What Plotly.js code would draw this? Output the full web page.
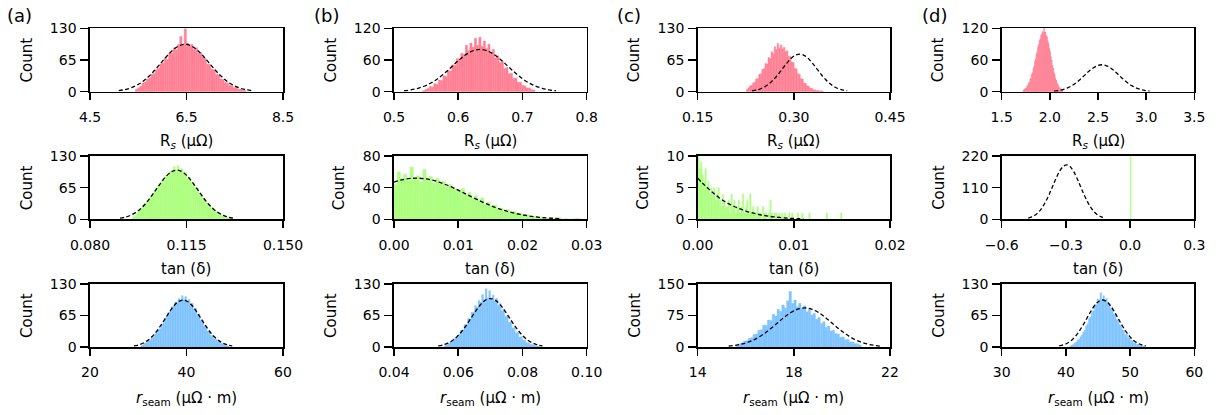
<!DOCTYPE html>
<html><head><meta charset="utf-8">
<script src="https://cdn.plot.ly/plotly-3.0.1.min.js"></script>
<style>html,body{margin:0;padding:0;background:#fff}#chart{width:1220px;height:415px}</style>
</head><body><div id="chart"></div><script>
// ---------------- data ----------------
const panelLabels = ['(a)', '(b)', '(c)', '(d)'];
const rowTitles = ['R<sub><i>s</i></sub> (μΩ)', 'tan (δ)', '<i>r</i><sub>seam</sub> (μΩ · m)'];
const yTitle = 'Count';

// (a)
const aRsX = [4.5, 6.5, 8.5], aRsXText = ['4.5', '6.5', '8.5'], aRsY = [0, 65, 130];
const aRsBinStart = 5.44, aRsBinWidth = 0.046;
const aRsCounts = [5, 8, 11, 18, 20, 26, 28, 36, 38, 45, 48, 57, 59, 69, 66, 80, 79, 90, 86, 97, 113, 95, 129, 100, 94, 97, 87, 90, 79, 80, 70, 68, 57, 56, 46, 45, 36, 35, 26, 25, 19, 18, 13, 12, 8, 9, 5, 5, 3, 2];
const aRsFitStart = 5.095, aRsFitStep = 0.125;
const aRsFit = [2.2, 4.3, 7.7, 13.1, 21.0, 31.5, 44.4, 58.8, 73.2, 85.6, 94.0, 97, 94.0, 85.6, 73.2, 58.8, 44.4, 31.5, 21.0, 13.1, 7.7, 4.3, 2.2];

const aTanX = [0.080, 0.115, 0.150], aTanXText = ['0.080', '0.115', '0.150'], aTanY = [0, 65, 130];
const aTanBinStart = 0.0955, aTanBinWidth = 0.0007;
const aTanCounts = [5, 8, 13, 18, 22, 28, 30, 38, 40, 48, 51, 60, 62, 71, 73, 83, 80, 91, 90, 99, 97, 108, 99, 110, 98, 104, 93, 96, 85, 86, 76, 74, 65, 64, 54, 52, 43, 41, 33, 32, 24, 23, 17, 16, 11, 11, 7, 5, 4, 3, 2];
const aTanFitStart = 0.090875, aTanFitStep = 0.001875;
const aTanFit = [2.3, 4.4, 8.0, 13.7, 21.8, 32.8, 46.2, 61.3, 76.2, 89.1, 97.9, 101, 97.9, 89.1, 76.2, 61.3, 46.2, 32.8, 21.8, 13.7, 8.0, 4.4, 2.3];

const aSeamX = [20, 40, 60], aSeamXText = ['20', '40', '60'], aSeamY = [0, 65, 130];
const aSeamBinStart = 30.55, aSeamBinWidth = 0.35;
const aSeamCounts = [3, 5, 8, 9, 13, 14, 19, 21, 27, 29, 36, 38, 47, 50, 60, 62, 72, 73, 83, 84, 93, 91, 100, 96, 106, 98, 104, 95, 98, 88, 90, 78, 79, 67, 68, 55, 55, 44, 43, 33, 32, 24, 24, 17, 16, 11, 11, 7, 7, 4, 3, 2];
const aSeamFitStart = 29.125, aSeamFitStep = 0.925;
const aSeamFit = [2.2, 4.3, 7.7, 13.1, 21.0, 31.5, 44.4, 58.8, 73.2, 85.6, 94.0, 97, 94.0, 85.6, 73.2, 58.8, 44.4, 31.5, 21.0, 13.1, 7.7, 4.3, 2.2];

// (b)
const bRsX = [0.5, 0.6, 0.7, 0.8], bRsXText = ['0.5', '0.6', '0.7', '0.8'], bRsY = [0, 60, 120];
const bRsBinStart = 0.5445, bRsBinWidth = 0.0035;
const bRsCounts = [2, 4, 6, 10, 9, 15, 14, 22, 21, 30, 29, 40, 39, 51, 50, 63, 60, 73, 70, 88, 78, 92, 84, 101, 88, 103, 86, 96, 82, 90, 74, 80, 64, 68, 55, 57, 44, 46, 34, 35, 25, 26, 18, 18, 12, 11, 7, 7, 4, 3];
const bRsFitStart = 0.51575, bRsFitStep = 0.01075;
const bRsFit = [1.8, 3.5, 6.4, 10.8, 17.3, 26.0, 36.6, 48.5, 60.4, 70.6, 77.5, 80, 77.5, 70.6, 60.4, 48.5, 36.6, 26.0, 17.3, 10.8, 6.4, 3.5, 1.8];

const bTanX = [0, 0.01, 0.02, 0.03], bTanXText = ['0.00', '0.01', '0.02', '0.03'], bTanY = [0, 40, 80];
const bTanBinStart = 0, bTanBinWidth = 0.0005;
const bTanCounts = [44, 60, 52, 57, 49, 66, 51, 55, 47, 63, 50, 54, 46, 52, 45, 48, 41, 44, 40, 38, 36, 39, 31, 34, 27, 30, 24, 27, 18, 22, 16, 18, 13, 14, 10, 12, 8, 10, 6, 8, 5, 6, 3, 4, 4, 2, 3, 1, 2, 1, 1, 2, 0, 1, 0, 0, 1, 1];
const bTanFitStart = 0, bTanFitStep = 0.001;
const bTanFit = [47.0, 49.4, 51.1, 51.9, 51.9, 51.1, 49.4, 47.0, 44.0, 40.6, 36.8, 32.8, 28.7, 24.8, 21.0, 17.5, 14.4, 11.6, 9.2, 7.2, 5.6, 4.2, 3.1, 2.3, 1.6, 1.2, 0.8];

const bSeamX = [0.04, 0.06, 0.08, 0.10], bSeamXText = ['0.04', '0.06', '0.08', '0.10'], bSeamY = [0, 65, 130];
const bSeamBinStart = 0.05575, bSeamBinWidth = 0.00055;
const bSeamCounts = [3, 5, 7, 11, 12, 17, 18, 25, 26, 35, 35, 46, 46, 59, 58, 72, 71, 85, 82, 96, 92, 108, 98, 120, 101, 116, 100, 107, 95, 100, 86, 90, 75, 78, 63, 65, 51, 52, 39, 40, 29, 30, 20, 21, 14, 14, 9, 9, 5, 5, 4, 3, 2, 1];
const bSeamFitStart = 0.053775, bSeamFitStep = 0.001475;
const bSeamFit = [2.3, 4.4, 8.0, 13.5, 21.6, 32.5, 45.8, 60.7, 75.5, 88.3, 96.9, 100, 96.9, 88.3, 75.5, 60.7, 45.8, 32.5, 21.6, 13.5, 8.0, 4.4, 2.3];

// (c)
const cRsX = [0.15, 0.30, 0.45], cRsXText = ['0.15', '0.30', '0.45'], cRsY = [0, 65, 130];
const cRsBinStart = 0.226, cRsBinWidth = 0.0024;
const cRsCounts = [5, 8, 12, 13, 18, 20, 26, 27, 36, 37, 46, 47, 58, 57, 70, 68, 82, 78, 92, 86, 99, 89, 96, 88, 91, 82, 84, 72, 72, 61, 60, 48, 47, 37, 36, 27, 26, 18, 17, 12, 11, 7, 7, 4, 4, 2, 3, 1, 2, 1];
const cRsFitStart = 0.23475, cRsFitStep = 0.00675;
const cRsFit = [1.8, 3.4, 6.1, 10.4, 16.7, 25.0, 35.3, 46.7, 58.1, 68.0, 74.6, 77, 74.6, 68.0, 58.1, 46.7, 35.3, 25.0, 16.7, 10.4, 6.1, 3.4, 1.8];

const cTanX = [0, 0.01, 0.02], cTanXText = ['0.00', '0.01', '0.02'], cTanY = [0, 5, 10];
const cTanBinStart = 0, cTanBinWidth = 0.00015;
const cTanCounts = [10, 8, 9, 7, 6, 8, 5, 6, 4, 5,
                    4, 5, 3, 4, 5, 3, 2, 4, 3, 2,
                    2, 3, 1, 4, 2, 3, 1, 2, 3, 1,
                    2, 4, 1, 2, 3, 1, 4, 1, 2, 1,
                    1, 2, 1, 1, 0, 2, 1, 1, 0, 1,
                    3, 1, 0, 1, 1, 0, 1, 0, 1, 0,
                    1, 0, 0, 1, 0, 1, 0, 0, 0, 1,
                    0, 0, 1, 0, 0, 0, 0, 1, 0, 0,
                    0, 0, 0, 0, 0, 0, 0, 0, 0, 1,
                    0, 0, 0, 0, 0, 0, 0, 0, 0, 1];
const cTanFitStart = 0, cTanFitStep = 0.0005;
const cTanFit = [6.5, 5.7, 5.0, 4.3, 3.7, 3.1, 2.65, 2.25, 1.9, 1.6, 1.3, 1.08, 0.88, 0.72, 0.58, 0.46, 0.37, 0.29, 0.22, 0.17, 0.13, 0.1, 0.07];

const cSeamX = [14, 18, 22], cSeamXText = ['14', '18', '22'], cSeamY = [0, 75, 150];
const cSeamBinStart = 15.6, cSeamBinWidth = 0.1;
const cSeamCounts = [5, 8, 10, 14, 15, 21, 22, 30, 31, 40, 41, 52, 52, 64, 63, 78, 74, 90, 85, 100, 93, 110, 132, 104, 112, 96, 104, 92, 98, 84, 89, 76, 80, 66, 70, 56, 60, 47, 50, 38, 40, 32, 31, 23, 24, 17, 18, 12, 12, 8, 8, 5];
const cSeamFitStart = 15.2875, cSeamFitStep = 0.2875;
const cSeamFit = [2.1, 4.1, 7.4, 12.6, 20.1, 30.2, 42.6, 56.4, 70.2, 82.1, 90.1, 93, 90.1, 82.1, 70.2, 56.4, 42.6, 30.2, 20.1, 12.6, 7.4, 4.1, 2.1];

// (d)
const dRsX = [1.5, 2.0, 2.5, 3.0, 3.5], dRsXText = ['1.5', '2.0', '2.5', '3.0', '3.5'], dRsY = [0, 60, 120];
const dRsBinStart = 1.72, dRsBinWidth = 0.008;
const dRsCounts = [2, 4, 5, 7, 7, 11, 12, 17, 18, 24, 26, 33, 36, 44, 48, 57, 62, 71, 76, 84, 89, 97, 100, 107, 109, 114, 112, 121, 113, 113, 106, 104, 96, 91, 82, 76, 66, 60, 50, 45, 36, 32, 25, 22, 16, 14, 10, 8, 6, 5, 3, 3];
const dRsFitStart = 2.045, dRsFitStep = 0.045;
const dRsFit = [1.2, 2.2, 4.1, 6.9, 11.0, 16.6, 23.3, 30.9, 38.5, 45.0, 49.4, 51, 49.4, 45.0, 38.5, 30.9, 23.3, 16.6, 11.0, 6.9, 4.1, 2.2, 1.2];

const dTanX = [-0.6, -0.3, 0.0, 0.3], dTanXText = ['\u22120.6', '\u22120.3', '0.0', '0.3'], dTanY = [0, 110, 220];
const dTanBinStart = 0.001, dTanBinWidth = 0.004;
const dTanCounts = [240];
const dTanFitStart = -0.47575, dTanFitStep = 0.01625;
const dTanFit = [4.3, 8.3, 15.0, 25.6, 40.9, 61.4, 86.5, 114.6, 142.7, 166.8, 183.2, 189, 183.2, 166.8, 142.7, 114.6, 86.5, 61.4, 40.9, 25.6, 15.0, 8.3, 4.3];

const dSeamX = [30, 40, 50, 60], dSeamXText = ['30', '40', '50', '60'], dSeamY = [0, 65, 130];
const dSeamBinStart = 40.6, dSeamBinWidth = 0.225;
const dSeamCounts = [2, 4, 5, 8, 10, 14, 16, 21, 25, 31, 35, 44, 48, 59, 62, 73, 75, 88, 87, 99, 94, 112, 98, 106, 95, 100, 89, 90, 79, 80, 68, 68, 57, 56, 46, 45, 35, 35, 26, 26, 19, 19, 13, 13, 8, 9, 5, 6, 3, 4, 2, 2];
const dSeamFitStart = 38.9625, dSeamFitStep = 0.6125;
const dSeamFit = [2.2, 4.3, 7.7, 13.1, 21.0, 31.5, 44.4, 58.8, 73.2, 85.6, 94.0, 97, 94.0, 85.6, 73.2, 58.8, 44.4, 31.5, 21.0, 13.1, 7.7, 4.3, 2.2];

// ---------------- assembly ----------------
const panels = [
  [ {xt:aRsX, xl:aRsXText, yt:aRsY, bs:aRsBinStart, bw:aRsBinWidth, c:aRsCounts, fs:aRsFitStart, fd:aRsFitStep, f:aRsFit},
    {xt:aTanX, xl:aTanXText, yt:aTanY, bs:aTanBinStart, bw:aTanBinWidth, c:aTanCounts, fs:aTanFitStart, fd:aTanFitStep, f:aTanFit},
    {xt:aSeamX, xl:aSeamXText, yt:aSeamY, bs:aSeamBinStart, bw:aSeamBinWidth, c:aSeamCounts, fs:aSeamFitStart, fd:aSeamFitStep, f:aSeamFit} ],
  [ {xt:bRsX, xl:bRsXText, yt:bRsY, bs:bRsBinStart, bw:bRsBinWidth, c:bRsCounts, fs:bRsFitStart, fd:bRsFitStep, f:bRsFit},
    {xt:bTanX, xl:bTanXText, yt:bTanY, bs:bTanBinStart, bw:bTanBinWidth, c:bTanCounts, fs:bTanFitStart, fd:bTanFitStep, f:bTanFit},
    {xt:bSeamX, xl:bSeamXText, yt:bSeamY, bs:bSeamBinStart, bw:bSeamBinWidth, c:bSeamCounts, fs:bSeamFitStart, fd:bSeamFitStep, f:bSeamFit} ],
  [ {xt:cRsX, xl:cRsXText, yt:cRsY, bs:cRsBinStart, bw:cRsBinWidth, c:cRsCounts, fs:cRsFitStart, fd:cRsFitStep, f:cRsFit},
    {xt:cTanX, xl:cTanXText, yt:cTanY, bs:cTanBinStart, bw:cTanBinWidth, c:cTanCounts, fs:cTanFitStart, fd:cTanFitStep, f:cTanFit},
    {xt:cSeamX, xl:cSeamXText, yt:cSeamY, bs:cSeamBinStart, bw:cSeamBinWidth, c:cSeamCounts, fs:cSeamFitStart, fd:cSeamFitStep, f:cSeamFit} ],
  [ {xt:dRsX, xl:dRsXText, yt:dRsY, bs:dRsBinStart, bw:dRsBinWidth, c:dRsCounts, fs:dRsFitStart, fd:dRsFitStep, f:dRsFit},
    {xt:dTanX, xl:dTanXText, yt:dTanY, bs:dTanBinStart, bw:dTanBinWidth, c:dTanCounts, fs:dTanFitStart, fd:dTanFitStep, f:dTanFit},
    {xt:dSeamX, xl:dSeamXText, yt:dSeamY, bs:dSeamBinStart, bw:dSeamBinWidth, c:dSeamCounts, fs:dSeamFitStart, fd:dSeamFitStep, f:dSeamFit} ]
];

// ---------------- styling / layout ----------------
const W = 1220, H = 415;
const rowColors = ['#ff8094', '#aeff80', '#80c4ff'];
const colPx = [[90, 283], [394, 586.7], [697.7, 890], [1001.7, 1194.3]];
const rowPx = [[28.3, 91.7], [156, 219.3], [284, 347]];
const xTitlePx = [141, 269, 398];
const labelPx = [5, 312, 615, 920];
const FONT = 'DejaVu Sans, Liberation Sans, sans-serif';

const traces = [];
const layout = {
  width: W, height: H, margin: {l: 0, r: 0, t: 0, b: 0},
  paper_bgcolor: '#fff', plot_bgcolor: '#fff',
  showlegend: false, hovermode: false, barmode: 'overlay',
  font: {family: FONT, color: '#000'},
  annotations: []
};

panels.forEach((col, ci) => {
  col.forEach((p, ri) => {
    const n = ci * 3 + ri + 1;
    const sx = n === 1 ? '' : String(n);
    traces.push({
      type: 'bar', x0: p.bs, dx: p.bw, y: p.c, width: p.bw, offset: 0,
      marker: {color: rowColors[ri], line: {width: 0.4, color: rowColors[ri]}},
      xaxis: 'x' + sx, yaxis: 'y' + sx, hoverinfo: 'skip'
    });
    traces.push({
      type: 'scatter', mode: 'lines', x0: p.fs, dx: p.fd, y: p.f,
      line: {color: '#000', width: 1.3, dash: '4px,2.5px', shape: 'spline'},
      xaxis: 'x' + sx, yaxis: 'y' + sx, hoverinfo: 'skip'
    });
    const common = {
      showline: true, mirror: true, linecolor: '#000', linewidth: 1.6,
      ticks: 'outside', tickwidth: 1.5, tickcolor: '#000',
      showgrid: false, zeroline: false, fixedrange: true, automargin: false,
      tickmode: 'array', tickfont: {family: FONT, size: 14, color: '#000'}
    };
    layout['xaxis' + sx] = Object.assign({}, common, {
      domain: [colPx[ci][0] / W, colPx[ci][1] / W],
      anchor: 'y' + sx,
      range: [p.xt[0], p.xt[p.xt.length - 1]],
      tickvals: p.xt, ticktext: p.xl, ticklen: 7, ticklabelstandoff: 5
    });
    const yLabels = p.yt.map(String);
    layout['yaxis' + sx] = Object.assign({}, common, {
      domain: [1 - rowPx[ri][1] / H, 1 - rowPx[ri][0] / H],
      anchor: 'x' + sx,
      range: [p.yt[0], p.yt[p.yt.length - 1]],
      tickvals: p.yt, ticktext: yLabels, ticklen: 8, ticklabelstandoff: 1
    });
    layout.annotations.push({
      text: rowTitles[ri], xref: 'paper', yref: 'paper',
      x: (colPx[ci][0] + colPx[ci][1]) / 2 / W, y: 1 - xTitlePx[ri] / H,
      xanchor: 'center', yanchor: 'middle', showarrow: false,
      font: {family: FONT, size: 15, color: '#000'}
    });
    const maxLen = Math.max(...yLabels.map(s => s.length));
    layout.annotations.push({
      text: yTitle, xref: 'paper', yref: 'paper', textangle: -90,
      x: (colPx[ci][0] - 39.5 - 8 * maxLen) / W, y: 1 - (rowPx[ri][0] + rowPx[ri][1]) / 2 / H,
      xanchor: 'center', yanchor: 'middle', showarrow: false,
      font: {family: FONT, size: 15, color: '#000'}
    });
  });
  layout.annotations.push({
    text: panelLabels[ci], xref: 'paper', yref: 'paper',
    x: labelPx[ci] / W, y: 1 - 16 / H, xanchor: 'left', yanchor: 'middle',
    showarrow: false, font: {family: FONT, size: 18, color: '#000'}
  });
});

Plotly.newPlot('chart', traces, layout, {staticPlot: true, displayModeBar: false});
</script></body></html>
